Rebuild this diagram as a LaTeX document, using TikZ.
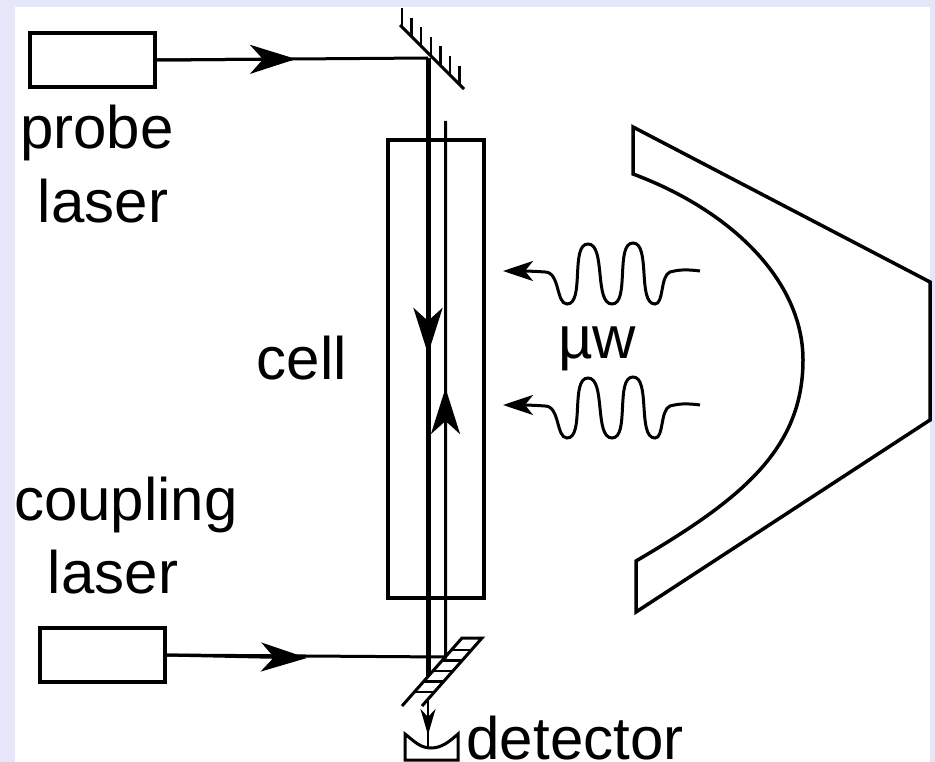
\documentclass[tikz,border=0pt]{standalone}
\usepackage{fontspec}
\setmainfont{Liberation Sans}
\usepackage{tikz}
\usetikzlibrary{arrows.meta}
\definecolor{framecol}{HTML}{E6E6FA}
\tikzstyle{device} = [rectangle, draw=black, line width=4pt, inner sep=0pt]
\tikzstyle{label} = [inner sep=0pt, anchor=base, font=\fontsize{60}{60}\selectfont, text=black]
\tikzstyle{beam} = [line width=3pt]
\tikzstyle{thickbeam} = [line width=5pt]
\tikzstyle{bigarrow} = [-{Stealth[length=46pt,width=29pt,inset=13pt]}]
\tikzstyle{wavearrow} = [line width=3pt,-{Stealth[length=30pt,width=20pt,inset=8pt]}]
\begin{document}
\begin{tikzpicture}[x=1pt,y=-1pt]
\fill [framecol] (0,0) rectangle (935,762);
\fill [white] (15,7) rectangle (930,762);
\useasboundingbox (0,0) rectangle (935,762);
% lasers and cell
\node (probe) [device, minimum width=125pt, minimum height=54pt] at (92.5,60) {};
\node (coupling) [device, minimum width=125pt, minimum height=54pt] at (102,655) {};
\node (cell) [device, minimum width=96pt, minimum height=457pt] at (435.5,369) {};
\node (probetext) [label] at (97,149) {probe};
\node (probelaser) [label] at (103,223) {laser};
\node (couplingtext) [label] at (126,520) {coupling};
\node (couplinglaser) [label] at (113,593) {laser};
\node (celltext) [label] at (302,379) {cell};
\node (mwtext) [label] at (597,358) {µw};
\node (dettext) [label] at (575,759) {detector};
% mirror top
\coordinate (mirrorA) at (400,25);
\coordinate (mirrorB) at (464,89);
\coordinate (probeturn) at (428,58);
\draw [line width=3pt] (mirrorA) -- (mirrorB);
\foreach \i in {0,...,6}
  \draw [line width=2.5pt] (402+\i*9.6,27+\i*9.6) -- +(0,-19);
% beam splitter
\coordinate (splitA) at (402,706);
\coordinate (splitB) at (462,638);
\coordinate (splitC) at (422,706);
\coordinate (splitD) at (482,638);
\coordinate (probeend) at (428,676);
\coordinate (detstart) at (428,698);
\draw [line width=3pt] (splitA) -- (splitB) -- (splitD) -- (splitC);
\foreach \i in {0,...,4}
  \draw [line width=2.5pt] (451.4-\i*9.26,650+\i*10.5) -- +(20,0);
% beams
\draw [beam] (probe.east) -- (probeturn);
\draw [beam, bigarrow] (probe.east) -- (296,59);
\draw [thickbeam] (probeturn) -- (probeend);
\draw [thickbeam, bigarrow] (probeturn) -- (428,354);
\coordinate (coupletop) at (445.5,121);
\coordinate (coupleturn) at (445.5,657);
\draw [beam] (coupling.east) -- (coupleturn) -- (coupletop);
\draw [beam, bigarrow] (coupling.east) -- (307,658);
\draw [beam, bigarrow] (coupleturn) -- (445.5,388);
% detector
\coordinate (dettop) at (428,748);
\draw [beam] (405,734) .. controls (414,741) and (420,748) .. (431,748) .. controls (442,748) and (450,741) .. (458,734) -- (458,760) -- (405,760) -- cycle;
\draw [line width=2.4pt] (detstart) -- (dettop);
\draw [line width=2.4pt, -{Stealth[length=26pt,width=15pt,inset=8pt]}] (detstart) -- (428,735);
% parabolic dish
\draw [line width=3.5pt] (633,127) -- (930,282) -- (930,420) -- (636,612) -- (636,561)
  .. controls (740,500) and (803,450) .. (803,360)
  .. controls (803,280) and (730,210) .. (633,174) -- cycle;
% microwaves
\foreach \y/\n in {271/top,405/bottom} {
  \coordinate (wave\n) at (700,\y);
  \coordinate (tip\n) at (503,\y);
  \draw [wavearrow] (wave\n) .. controls (685,\y-2) and (678,\y-1) .. (670,\y+1)
    .. controls (660,\y+5) and (664,\y+33) .. (655,\y+33)
    .. controls (637,\y+33) and (651,\y-28) .. (633,\y-28)
    .. controls (615,\y-28) and (630,\y+33) .. (612,\y+33)
    .. controls (594,\y+33) and (606,\y-27) .. (588,\y-27)
    .. controls (570,\y-27) and (585,\y+33) .. (567,\y+33)
    .. controls (556,\y+33) and (560,\y+1) .. (545,\y+1)
    .. controls (532,\y) and (520,\y) .. (tip\n);
}
\end{tikzpicture}
\end{document}
